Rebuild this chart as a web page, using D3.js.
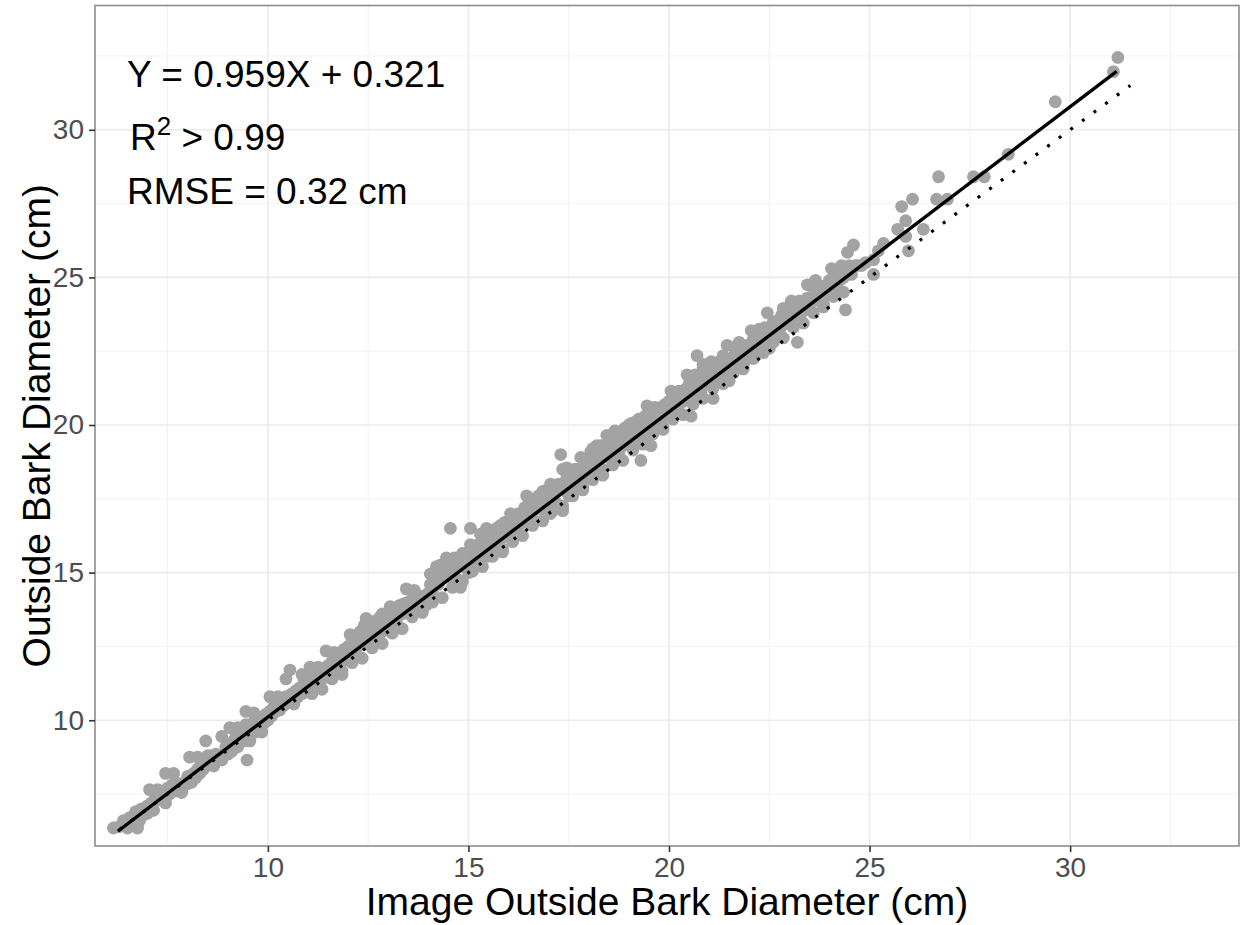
<!DOCTYPE html>
<html>
<head>
<meta charset="utf-8">
<script src="https://cdn.jsdelivr.net/npm/d3@7"></script>
<style>
  body { margin: 0; background: #fff; }
  svg text { font-family: "Liberation Sans", Arial, sans-serif; }
</style>
</head>
<body>
<svg id="chart" width="1241" height="925"></svg>
<script>
// ---------------- DATA ----------------
const xTicks = [10, 15, 20, 25, 30];
const yTicks = [10, 15, 20, 25, 30];
const xMinor = [7.5, 12.5, 17.5, 22.5, 27.5, 32.5];
const yMinor = [7.5, 12.5, 17.5, 22.5, 27.5, 32.5];
const xTitle = "Image Outside Bark Diameter (cm)";
const yTitle = "Outside Bark Diameter (cm)";
const eqText = "Y = 0.959X + 0.321";
const r2Text = "> 0.99";
const rmseText = "RMSE = 0.32 cm";

// fitted line end points and 1:1 reference line end points (data units)
const fitX = [6.26, 31.16];
const fitY = [6.24, 31.98];
const refX = [6.3, 31.5];
const refY = [6.3, 31.5];

// observations [image diameter, outside bark diameter]
const obs = [
[6.15,6.35],[6.3,6.4],[6.4,6.6],[6.5,6.35],[6.55,6.7],[6.6,6.5],[6.7,6.9],[6.75,6.35],[6.8,6.6],[6.85,7.0],[6.9,6.8],[7.0,7.1],[7.0,6.85],
[7.1,7.2],[7.15,6.95],[7.2,7.4],[7.3,7.3],[7.3,7.55],[7.4,7.5],[7.45,7.2],[7.5,7.7],[7.55,7.5],[7.6,7.8],[7.7,7.6],[7.7,7.85],[7.8,7.85],[7.85,7.6],[7.9,7.85],[8.0,7.85],[8.0,8.1],[8.1,7.9],[8.15,8.2],
[8.2,8.05],[8.25,8.35],[8.3,8.2],[8.35,8.5],[8.4,8.35],[8.45,8.6],[8.5,8.8],[8.55,8.5],[8.6,8.8],[8.65,8.6],[8.7,8.85],[8.8,8.8],[8.85,8.65],[8.9,8.85],[8.95,9.1],[9.0,8.85],[9.05,9.2],[9.1,8.95],
[9.15,9.3],[9.2,9.45],[9.25,9.1],[9.3,9.4],[9.35,9.6],[9.4,9.3],[9.45,9.85],[9.48,8.65],[9.5,9.55],[9.55,9.3],[9.6,9.75],[9.65,9.95],[9.7,9.6],[9.75,10.0],[9.8,9.8],[9.85,10.1],[9.9,9.9],[9.95,10.2],[10.0,10.0],[10.05,10.3],
[10.1,10.15],[10.15,10.45],[10.2,10.3],[10.25,10.55],[10.3,10.35],[10.35,10.7],[10.4,10.5],[10.45,10.8],[10.5,10.6],[10.55,11.7],[10.6,10.9],[10.65,10.7],[10.7,11.0],[10.75,10.8],[10.8,11.1],[10.85,10.9],[10.9,11.4],[10.95,11.0],[11.0,11.25],[11.05,10.95],
[11.1,11.3],[11.15,11.5],[11.2,11.15],[11.3,11.6],[11.35,11.4],[11.4,11.75],[11.45,11.5],[11.5,11.85],[11.55,11.6],[11.6,12.0],[11.65,11.75],[11.7,12.2],[11.75,11.9],[11.8,12.15],[11.85,12.0],[11.9,12.4],[11.95,12.1],[12.0,12.5],[12.05,12.0],
[12.1,12.6],[12.15,12.3],[12.2,12.8],[12.25,12.5],[12.3,13.0],[12.35,12.7],[12.4,13.2],[12.45,12.9],[12.5,12.6],[12.55,13.1],[12.6,12.8],[12.65,13.35],[12.7,12.95],[12.75,13.2],[12.8,13.5],[12.85,13.0],[12.9,13.3],[12.95,13.1],[13.0,13.5],[13.05,13.2],
[13.1,13.4],[13.15,13.7],[13.2,13.35],[13.3,13.9],[13.35,13.6],[13.4,13.95],[13.45,13.75],[13.5,14.0],[13.55,13.8],[13.6,14.1],[13.65,13.9],[13.7,14.2],[13.75,13.95],[13.8,14.2],[13.85,14.0],[13.9,14.2],[13.95,13.9],[14.0,14.3],[14.05,14.6],
[14.1,14.35],[14.15,14.9],[14.2,15.2],[14.25,14.6],[14.3,15.25],[14.35,14.8],[14.4,15.3],[14.45,15.0],[14.5,15.4],[14.55,16.5],[14.55,14.9],[14.6,15.1],[14.65,15.5],[14.7,14.8],[14.75,15.3],[14.8,14.5],[14.85,15.6],[14.9,15.2],[15.0,15.7],[15.05,16.5],[15.0,15.0],
[15.1,15.4],[15.15,15.75],[15.2,15.5],[15.25,15.9],[15.3,16.3],[15.35,15.7],[15.4,16.0],[15.45,15.55],[15.5,16.1],[15.55,15.8],[15.6,16.3],[15.65,16.0],[15.7,16.5],[15.75,16.1],[15.8,16.6],[15.85,16.2],[15.9,16.7],[15.95,16.3],[16.0,16.7],[16.05,16.35],
[16.1,16.8],[16.15,16.5],[16.2,16.9],[16.25,16.6],[16.3,17.0],[16.35,16.7],[16.4,17.2],[16.45,16.9],[16.5,17.3],[16.55,16.8],[16.6,17.1],[16.65,17.5],[16.7,17.2],[16.75,17.6],[16.8,17.15],[16.85,17.7],[16.9,17.3],[16.95,17.8],[17.0,17.4],[17.05,17.0],
[17.1,17.5],[17.15,17.8],[17.2,17.35],[17.25,17.9],[17.3,19.0],[17.35,18.5],[17.35,17.1],[17.4,17.8],[17.45,18.2],[17.5,17.6],[17.55,18.1],[17.6,18.4],[17.65,17.9],[17.7,18.5],[17.75,18.2],[17.8,18.9],[17.85,18.35],[17.9,18.7],[17.95,18.2],[18.0,18.9],[18.05,18.4],
[18.1,19.2],[18.15,18.6],[18.2,19.3],[18.25,18.8],[18.3,19.3],[18.35,18.5],[18.4,19.0],[18.45,19.3],[18.5,18.9],[18.55,19.6],[18.6,19.2],[18.65,19.8],[18.7,19.4],[18.75,19.1],[18.8,19.7],[18.85,19.3],[18.9,19.9],[18.95,19.5],[19.0,20.0],[19.05,19.3],
[19.1,19.8],[19.15,20.1],[19.2,19.6],[19.25,20.2],[19.3,18.8],[19.35,19.9],[19.4,20.3],[19.45,19.7],[19.5,20.2],[19.55,19.3],[19.6,20.4],[19.65,20.0],[19.7,20.5],[19.75,20.2],[19.8,20.6],[19.85,20.3],[19.9,20.7],[19.95,20.4],[20.0,20.8],[20.05,20.3],
[20.1,20.8],[20.15,20.5],[20.2,21.0],[20.25,20.7],[20.3,21.1],[20.35,20.8],[20.4,21.2],[20.45,20.95],[20.5,21.4],[20.55,20.3],[20.6,21.3],[20.65,21.7],[20.7,22.35],[20.75,21.5],[20.8,21.1],[20.85,22.05],[20.9,21.6],[20.95,21.9],[21.0,21.4],[21.05,21.8],
[21.1,20.9],[21.1,21.9],[21.15,21.5],[21.2,22.0],[21.25,21.6],[21.3,22.1],[21.35,22.35],[21.4,21.8],[21.45,22.2],[21.5,21.5],[21.55,22.2],[21.6,21.9],[21.65,22.4],[21.7,22.1],[21.75,22.8],[21.8,22.3],[21.85,22.6],[21.9,22.2],[21.95,22.7],[22.0,22.4],
[22.1,22.9],[22.15,22.5],[22.2,23.0],[22.25,22.7],[22.3,23.2],[22.35,22.9],[22.4,23.3],[22.45,23.0],[22.5,22.6],[22.55,23.3],[22.6,23.5],[22.65,23.1],[22.7,23.5],[22.75,23.2],[22.8,23.7],[22.85,23.4],[22.9,23.9],[22.95,23.5],[23.0,24.0],[23.05,23.6],
[23.1,24.0],[23.15,23.7],[23.2,22.8],[23.25,24.1],[23.3,23.8],[23.35,24.2],[23.4,23.9],[23.45,24.3],[23.5,24.0],[23.55,24.7],[23.65,24.9],[23.6,24.3],[23.7,24.5],[23.75,24.2],[23.8,24.7],[23.85,24.4],[23.95,24.6],[24.0,24.9],[24.05,24.5],
[24.1,25.0],[24.15,24.7],[24.2,25.2],[24.25,24.9],[24.3,25.4],[24.35,25.0],[24.4,23.9],[24.45,25.3],[24.5,25.4],[24.55,25.1],[24.6,26.1],[24.65,25.4],[24.7,25.4],[24.8,25.4],[24.9,25.5],[25.1,25.6],[25.1,25.1],[25.22,25.9],[25.35,26.15],
[25.7,26.63],[25.8,27.4],[25.9,26.92],[25.9,26.39],[25.97,25.9],[26.07,27.65],[26.34,26.63],[26.67,27.65],[26.72,28.41],[26.94,27.65],[27.59,28.41],[27.86,28.41],[28.46,29.17],[29.63,30.95],[31.08,31.97],[31.19,32.45],
// upper edge of the cloud
[7.05,7.65],[7.25,7.65],[7.45,8.2],[7.65,8.2],[7.85,7.55],[8.05,8.75],[8.25,8.75],[8.45,9.3],[8.65,8.45],[8.85,9.45],
[9.05,9.75],[9.25,9.75],[9.45,10.3],[9.65,10.25],[9.85,9.6],[10.05,10.8],[10.25,10.8],[10.45,11.4],[10.65,10.55],[10.85,11.55],
[11.05,11.8],[11.25,11.8],[11.45,12.35],[11.65,12.3],[11.85,11.65],[12.05,12.9],[12.25,12.9],[12.45,13.45],[12.65,12.6],[12.85,13.6],
[13.05,13.85],[13.25,13.85],[13.45,14.45],[13.65,14.4],[13.85,13.75],[14.05,14.95],[14.25,14.95],[14.45,15.5],[14.65,14.65],[14.85,15.65],
[15.05,15.95],[15.25,15.95],[15.45,16.5],[15.65,16.45],[15.85,15.8],[16.05,17.0],[16.25,17.0],[16.45,17.6],[16.65,16.75],[16.85,17.75],
[17.05,18.0],[17.25,18.0],[17.45,18.55],[17.65,18.5],[17.85,17.9],[18.05,19.1],[18.25,19.1],[18.45,19.65],[18.65,18.8],[18.85,19.8],
[19.05,20.05],[19.25,20.05],[19.45,20.65],[19.65,20.6],[19.85,19.95],[20.05,21.15],[20.25,21.15],[20.45,21.7],[20.65,20.85],[20.85,21.9],
[21.05,22.15],[21.25,22.15],[21.45,22.7],[21.65,22.65],[21.85,22.0],[22.05,23.2],[22.25,23.25],[22.45,23.8],[22.65,22.95],[22.85,23.95],
[23.05,24.2],[23.25,24.2],[23.45,24.75],[23.65,24.7],[23.85,24.1],[24.05,25.3],[24.25,25.3],[24.45,25.85],
// lower edge of the cloud
[11.1,10.9],[11.35,11.05],[11.6,11.4],[11.85,11.55],[12.1,11.95],[12.35,12.1],[12.6,12.45],[12.85,12.6],[13.1,12.95],[13.35,13.1],
[13.6,13.5],[13.85,13.65],[14.1,14.0],[14.35,14.15],[14.6,14.5],[14.85,14.7],[15.1,15.05],[15.35,15.2],[15.6,15.55],[15.85,15.7],
[16.1,16.05],[16.35,16.25],[16.6,16.6],[16.85,16.75],[17.1,17.1],[17.35,17.25],[17.6,17.6],[17.85,17.8],[18.1,18.15],[18.35,18.3],
[18.6,18.65],[18.85,18.8],[19.1,19.15],[19.35,19.35],[19.6,19.7],[19.85,19.85],[20.1,20.2],[20.35,20.35],[20.6,20.7],[20.85,20.9],
[21.1,21.25],[21.35,21.4],[21.6,21.75],[21.85,21.9],[22.1,22.25],[22.35,22.45],[22.6,22.8],[22.85,22.95],[23.1,23.3],[23.35,23.45],
[23.6,23.8],[23.85,24.0],[24.1,24.35],[24.35,24.5]
];

// ---------------- LAYOUT ----------------
const W = 1241, H = 925;
const panel = { left: 95, right: 1239, top: 5.5, bottom: 846 };
const svg = d3.select("#chart");

const x = d3.scaleLinear().domain([5.69, 34.21]).range([panel.left, panel.right]);
const y = d3.scaleLinear().domain([5.74, 34.21]).range([panel.bottom, panel.top]);

svg.append("rect").attr("width", W).attr("height", H).attr("fill", "#fff");

// grid
const grid = svg.append("g");
grid.selectAll(".vminor").data(xMinor.filter(d => x(d) < panel.right)).enter().append("line")
  .attr("x1", d => x(d)).attr("x2", d => x(d)).attr("y1", panel.top).attr("y2", panel.bottom)
  .attr("stroke", "#F2F2F2").attr("stroke-width", 1);
grid.selectAll(".hminor").data(yMinor.filter(d => y(d) > panel.top)).enter().append("line")
  .attr("y1", d => y(d)).attr("y2", d => y(d)).attr("x1", panel.left).attr("x2", panel.right)
  .attr("stroke", "#F2F2F2").attr("stroke-width", 1);
grid.selectAll(".vmajor").data(xTicks).enter().append("line")
  .attr("x1", d => x(d)).attr("x2", d => x(d)).attr("y1", panel.top).attr("y2", panel.bottom)
  .attr("stroke", "#EBEBEB").attr("stroke-width", 1.6);
grid.selectAll(".hmajor").data(yTicks).enter().append("line")
  .attr("y1", d => y(d)).attr("y2", d => y(d)).attr("x1", panel.left).attr("x2", panel.right)
  .attr("stroke", "#EBEBEB").attr("stroke-width", 1.6);

// points
svg.append("g").selectAll("circle").data(obs).enter().append("circle")
  .attr("cx", d => x(d[0])).attr("cy", d => y(d[1])).attr("r", 6.4)
  .attr("fill", "#A3A3A3");

// lines
const lineGen = d3.line().x(d => x(d[0])).y(d => y(d[1]));
svg.append("path").datum(refX.map((v, i) => [v, refY[i]]))
  .attr("d", lineGen).attr("fill", "none").attr("stroke", "#000")
  .attr("stroke-width", 3.2).attr("stroke-dasharray", "3 11.4");
svg.append("path").datum(fitX.map((v, i) => [v, fitY[i]]))
  .attr("d", lineGen).attr("fill", "none").attr("stroke", "#000")
  .attr("stroke-width", 3.4).attr("stroke-linecap", "butt");

// panel border
svg.append("rect").attr("x", panel.left).attr("y", panel.top)
  .attr("width", panel.right - panel.left).attr("height", panel.bottom - panel.top)
  .attr("fill", "none").attr("stroke", "#8C8C8C").attr("stroke-width", 1.6);

// axes
const xAxis = svg.append("g").attr("transform", `translate(0,${panel.bottom})`)
  .call(d3.axisBottom(x).tickValues(xTicks).tickSize(6).tickPadding(5).tickFormat(d3.format("d")));
xAxis.select(".domain").remove();
xAxis.selectAll(".tick line").attr("stroke", "#333").attr("stroke-width", 1.6);
xAxis.selectAll(".tick text").attr("fill", "#4D4D4D").style("font-size", "28px")
  .style("font-family", "'Liberation Sans', Arial, sans-serif");

const yAxis = svg.append("g").attr("transform", `translate(${panel.left},0)`)
  .call(d3.axisLeft(y).tickValues(yTicks).tickSize(6).tickPadding(5).tickFormat(d3.format("d")));
yAxis.select(".domain").remove();
yAxis.selectAll(".tick line").attr("stroke", "#333").attr("stroke-width", 1.6);
yAxis.selectAll(".tick text").attr("fill", "#4D4D4D").style("font-size", "28px")
  .style("font-family", "'Liberation Sans', Arial, sans-serif");

// axis titles
svg.append("text").attr("x", (panel.left + panel.right) / 2).attr("y", 915)
  .attr("text-anchor", "middle").style("font-size", "39px").attr("fill", "#000").text(xTitle);
svg.append("text").attr("transform", `translate(50,${(panel.top + panel.bottom) / 2}) rotate(-90)`)
  .attr("text-anchor", "middle").style("font-size", "39px").attr("fill", "#000").text(yTitle);

// annotations
svg.append("text").attr("x", 127).attr("y", 87).style("font-size", "37px").attr("fill", "#000").text(eqText);
const r2 = svg.append("text").attr("x", 130).attr("y", 150).style("font-size", "37px").attr("fill", "#000");
r2.append("tspan").text("R");
r2.append("tspan").attr("dy", -15).style("font-size", "26px").text("2");
r2.append("tspan").attr("dy", 15).text(" " + r2Text);
svg.append("text").attr("x", 127).attr("y", 204).style("font-size", "37px").attr("fill", "#000").text(rmseText);
</script>
</body>
</html>
